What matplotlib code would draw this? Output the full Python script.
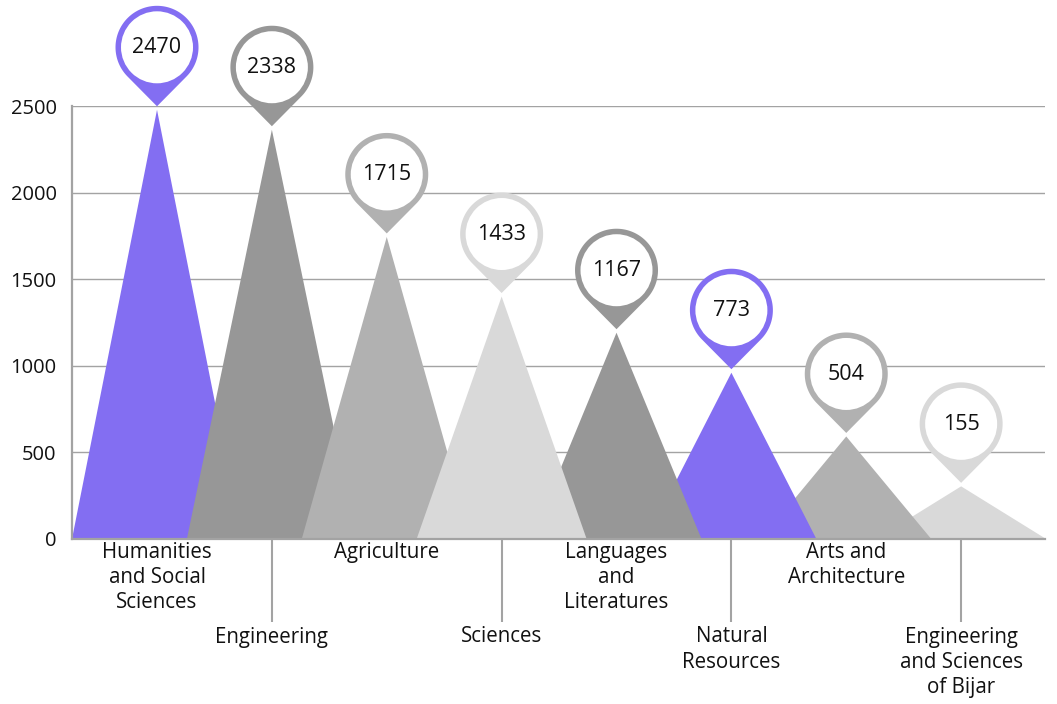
import numpy as np
import matplotlib
matplotlib.use("Agg")
import matplotlib.pyplot as plt
from matplotlib.patches import Polygon, Circle
from matplotlib.transforms import ScaledTranslation

# faculties and their counts (label values)
categories = [
    "Humanities\nand Social\nSciences",
    "Engineering",
    "Agriculture",
    "Sciences",
    "Languages\nand\nLiteratures",
    "Natural\nResources",
    "Arts and\nArchitecture",
    "Engineering\nand Sciences\nof Bijar",
]
values = [2470, 2338, 1715, 1433, 1167, 773, 504, 155]
# peak heights as drawn in the picture (not always equal to the label)
peaks = [2478, 2363, 1744, 1400, 1191, 960, 592, 304]
yticks = [0, 500, 1000, 1500, 2000, 2500]

PURPLE = "#836ef2"
DARK = "#979797"
MID = "#b1b1b1"
LIGHT = "#d9d9d9"
colors = [PURPLE, DARK, MID, LIGHT, DARK, PURPLE, MID, LIGHT]
GRID = "#a3a3a3"

plt.rcParams["font.family"] = ["Open Sans", "DejaVu Sans"]

fig = plt.figure(figsize=(10.57, 7.04), dpi=100)
ax = fig.add_axes([72 / 1057, 1 - 539 / 704, 973 / 1057, 433 / 704])

half = 0.74
n = len(categories)
for i, (h, c) in enumerate(zip(peaks, colors)):
    # middle triangle sits on top, the others fall back towards the edges
    z = 1.0 + 0.1 * (3 - abs(i - 3))
    ax.fill([i - half, i, i + half], [0, h, 0], color=c, lw=0, zorder=z)

# map pins (sizes in inches)
R, r, D, gap = 0.415, 0.36, 0.59, 0.035
a = np.arccos(R / D)
th = np.linspace(-np.pi / 2 + a, 3 * np.pi / 2 - a, 120)
for i, (h, v, c) in enumerate(zip(peaks, values, colors)):
    tr = fig.dpi_scale_trans + ScaledTranslation(i, h, ax.transData)
    cy = gap + D
    pts = np.column_stack([R * np.cos(th), cy + R * np.sin(th)])
    pts = np.vstack([pts, [0, gap]])
    ax.add_patch(Polygon(pts, closed=True, fc=c, ec="none", transform=tr,
                         clip_on=False, zorder=5))
    ax.add_patch(Circle((0, cy), r, fc="white", ec="none", transform=tr,
                        clip_on=False, zorder=6))
    ax.text(0, cy + 0.02, str(v), transform=tr, ha="center",
            va="center_baseline", fontsize=15.5, color="#111111", zorder=7)

ax.set_xlim(-0.74, 7.73)
ax.set_ylim(0, 2500)
ax.set_yticks(yticks)
ax.tick_params(axis="y", length=0, pad=11, labelsize=14.5)

# alternate category labels on two rows, lower row gets long tick lines
ax.set_xticks(range(1, n, 2), labels=categories[1::2])
ax.set_xticks(range(0, n, 2), labels=categories[0::2], minor=True)
ax.tick_params(axis="x", which="major", length=60, width=1.5, color=GRID,
               pad=3, labelsize=14.8)
ax.tick_params(axis="x", which="minor", length=0, pad=2, labelsize=14.8)
for lbl in ax.get_xticklabels(which="both"):
    lbl.set_linespacing(1.25)
    lbl.set_color("#111111")
for lbl in ax.get_yticklabels():
    lbl.set_color("#111111")

ax.set_axisbelow(True)
ax.yaxis.grid(True, color=GRID, lw=1.0)
ax.xaxis.grid(False)
for s in ["top", "right"]:
    ax.spines[s].set_visible(False)
for s in ["left", "bottom"]:
    ax.spines[s].set_color(GRID)
    ax.spines[s].set_linewidth(1.6)

fig.savefig("out.png", dpi=100)
